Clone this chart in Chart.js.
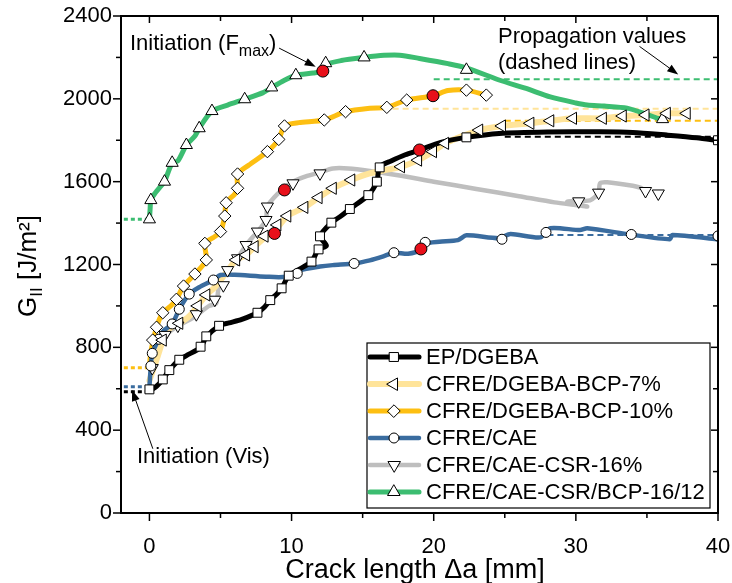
<!DOCTYPE html>
<html>
<head>
<meta charset="utf-8">
<script src="https://cdn.jsdelivr.net/npm/chart.js@4/dist/chart.umd.min.js"></script>
<style>
  html, body { margin: 0; padding: 0; background: #fff; }
  canvas { display: block; }
</style>
</head>
<body>
<canvas id="c" width="732" height="583"></canvas>
<script>
// ---- axis ticks ----
const X_TICKS = [0, 10, 20, 30, 40];
const Y_TICKS = [0, 400, 800, 1200, 1600, 2000, 2400];

// ---- series names ----
const NAMES = ['EP/DGEBA', 'CFRE/DGEBA-BCP-7%', 'CFRE/DGEBA-BCP-10%', 'CFRE/CAE', 'CFRE/CAE-CSR-16%', 'CFRE/CAE-CSR/BCP-16/12'];

// ---- EP/DGEBA ----
const EP_X = [0,0.5,0.94,1.4,2.1,2.6,3.6,4.0,4.9,5.6,6.5,7.6,8.1,8.5,9.0,9.3,9.8,10.5,11.4,11.9,12.45,12.0,12.8,13.5,14.1,15.4,16.0,16.2,17.0,18.0,19.0,20.5,22.3,24.6,28.0,31.7,34.0,36.4,38.5,40];
const EP_Y = [590,612,645,690,740,760,800,850,904,918,935,967,995,1028,1060,1085,1146,1175,1214,1273,1291,1336,1402,1435,1468,1535,1600,1672,1700,1730,1753,1790,1814,1833,1840,1841,1838,1825,1812,1798];
const EP_MX = [0,0.94,1.4,2.1,3.6,4.0,4.9,7.6,8.5,9.3,9.8,11.4,11.9,12.0,12.8,14.1,15.4,16.0,16.2,22.3,40];
const EP_MY = [597,645,690,740,803,853,904,967,1028,1085,1146,1214,1273,1336,1402,1468,1535,1600,1669,1814,1800];

// ---- CFRE/DGEBA-BCP-7% ----
const B7_X = [0,0.3,0.6,0.94,1.1,1.6,2.1,2.8,3.4,4.0,4.6,5.5,6.1,6.8,7.4,8.1,8.8,9.7,10.9,11.9,12.9,14.2,15.5,16.5,17.7,18.9,19.95,20.8,22.0,23.2,24.8,26.8,28.2,29.8,31.9,33.3,34.9,36.4,37.8];
const B7_Y = [640,700,760,835,871,900,916,950,1000,1053,1090,1170,1222,1246,1286,1330,1362,1434,1476,1523,1568,1608,1640,1655,1672,1704,1745,1785,1820,1849,1869,1882,1894,1906,1906,1917,1922,1930,1930];
const B7_MX = [0.94,2.1,3.4,4.0,6.1,6.8,7.4,8.1,9.0,9.7,10.9,11.9,12.9,14.2,17.7,18.9,19.95,20.8,23.2,24.8,26.8,28.2,29.8,31.9,33.3,34.9,36.4,37.8];
const B7_MY = [835,916,1000,1053,1222,1246,1286,1337,1391,1434,1476,1523,1568,1608,1672,1704,1745,1785,1849,1869,1882,1894,1906,1906,1917,1922,1930,1930];

// ---- CFRE/DGEBA-BCP-10% ----
const B10_X = [0,0.1,0.5,0.94,1.5,1.9,2.4,3.2,4.0,3.9,4.5,5.0,5.3,5.4,6.0,6.2,6.2,7.0,8.3,9.1,9.5,10.5,12.3,13.8,15.5,16.7,18.1,19.95,21.0,22.3,23.7];
const B10_Y = [702,779,897,967,1000,1032,1096,1154,1222,1302,1330,1359,1434,1498,1540,1568,1637,1680,1745,1804,1869,1885,1898,1938,1955,1959,1994,2015,2040,2042,2018];
const B10_MX = [0.23,0.5,0.94,1.9,2.4,3.2,4.0,3.9,5.0,5.3,5.4,6.2,6.2,8.3,9.1,9.5,12.3,13.8,16.7,18.1,22.3,23.7];
const B10_MY = [835,897,967,1032,1096,1154,1222,1302,1359,1434,1498,1568,1637,1745,1804,1869,1898,1938,1959,1994,2042,2018];

// ---- CFRE/CAE ----
const CAE_X = [0,0.1,0.2,0.65,1.0,1.6,2.1,2.8,3.5,4.5,5.0,6.0,8.2,9.6,10.6,12.0,12.9,14.4,15.5,16.4,17.2,18.2,19.1,19.4,20.4,21.7,22.3,24.6,25.4,27.5,28.2,30.3,30.8,33.8,36.6,36.8,39.9,40];
const CAE_Y = [610,710,771,839,880,913,984,1057,1090,1125,1149,1150,1141,1141,1173,1190,1197,1205,1220,1238,1257,1252,1270,1300,1310,1318,1341,1327,1347,1331,1375,1366,1375,1345,1322,1342,1322,1320];
const CAE_MX = [0.1,0.2,0.65,1.6,2.1,2.8,4.5,10.4,14.4,17.2,19.4,24.8,27.9,33.9,40];
const CAE_MY = [710,771,839,913,984,1057,1125,1157,1205,1257,1307,1322,1355,1345,1338];

// ---- CFRE/CAE-CSR-16% ----
const CSR_X = [0,0.3,0.6,1.0,1.5,2.3,3.0,3.6,4.2,4.7,4.9,5.5,6.2,6.8,7.6,8.2,8.3,9.0,10.0,11.0,12.0,12.9,14.0,15.5,17.6,20.0,23.0,26.0,28.5,30.0,30.8,29.4,31.0,31.6,31.7,32.2,34.0,34.6];
const CSR_Y = [640,700,760,840,880,915,940,970,1000,1013,1100,1173,1230,1294,1359,1415,1480,1540,1596,1625,1645,1664,1664,1652,1630,1600,1565,1530,1500,1487,1480,1505,1510,1547,1592,1597,1580,1570];
const CSR_MX = [0.2,1.1,2.0,3.3,4.6,5.2,5.5,6.2,6.8,7.6,8.2,8.3,10.1,12.0,30.2,31.6,34.9,35.8];
const CSR_MY = [700,860,905,960,1030,1100,1173,1230,1294,1359,1415,1480,1592,1640,1505,1547,1555,1543];

// ---- CFRE/CAE-CSR/BCP-16/12 ----
const HYB_X = [0,0.05,0.1,0.4,0.7,1.06,1.6,2.0,2.6,3.2,3.5,4.4,5.5,6.7,8.0,8.6,9.5,10.3,11.5,12.2,12.4,13.5,15.1,16.5,17.6,19.0,21.0,22.3,24.6,26.5,28.2,30.0,30.8,32.0,33.6,35.0,35.7,36.1];
const HYB_Y = [1418,1470,1511,1545,1570,1600,1691,1700,1777,1820,1858,1941,1970,1998,2030,2055,2090,2114,2125,2134,2165,2185,2200,2210,2211,2195,2170,2150,2091,2050,2009,1980,1970,1965,1955,1925,1907,1902];
const HYB_MX = [0,0.1,1.06,1.6,2.6,3.5,4.4,6.7,8.6,10.3,12.4,15.1,22.3,36.1];
const HYB_MY = [1418,1511,1600,1691,1777,1858,1941,1998,2055,2114,2172,2200,2140,1902];

// ---- initiation at F_max (red points) ----
const FMAX_X = [19.0, 8.8, 19.95, 19.1, 9.5, 12.2];
const FMAX_Y = [1753, 1350, 2015, 1275, 1560, 2134];

// ---- initiation from visual inspection (dotted, x from -1.8 to 0) ----
const VIS_X = [-1.8, 0];
const VIS_G = [586, null, 702, 610, null, 1418];

// ---- propagation values (dashed) ----
const PROP_START = [25, 15, 25, 28, null, 20];
const PROP_END = 40;
const PROP_G = [1817, 1952, 1894, 1342, null, 2095];

const COLORS = ['#000000', '#FFE49A', '#FDBF12', '#3A6C9F', '#BEBEBE', '#3CBD71'];
const WIDTHS = [5, 6, 5, 4.5, 4.5, 5];
const STYLES = [
  { pointStyle: 'rect', radius: 6.3, rotation: 0 },
  { pointStyle: 'triangle', radius: 7, rotation: 270 },
  { pointStyle: 'rectRot', radius: 6.2, rotation: 0 },
  { pointStyle: 'circle', radius: 5, rotation: 0 },
  { pointStyle: 'triangle', radius: 7, rotation: 180 },
  { pointStyle: 'triangle', radius: 7, rotation: 0 }
];

const CURVES = [[EP_X, EP_Y], [B7_X, B7_Y], [B10_X, B10_Y], [CAE_X, CAE_Y], [CSR_X, CSR_Y], [HYB_X, HYB_Y]];
const MARKS = [[EP_MX, EP_MY], [B7_MX, B7_MY], [B10_MX, B10_MY], [CAE_MX, CAE_MY], [CSR_MX, CSR_MY], [HYB_MX, HYB_MY]];

const pts = (xs, ys) => xs.map((x, i) => ({ x, y: ys[i] }));
const FONT = 'Liberation Sans, Arial, Helvetica, sans-serif';
Chart.defaults.font.family = FONT;
Chart.defaults.color = '#000';

// datasets: first in list is drawn on top
const datasets = [];
datasets.push({
  data: pts(FMAX_X, FMAX_Y), showLine: false, pointStyle: 'circle', pointRadius: 6,
  pointBackgroundColor: '#E8101A', pointBorderColor: '#000', pointBorderWidth: 1
});
for (let i = 0; i < 6; i++) {
  datasets.push({
    data: pts(MARKS[i][0], MARKS[i][1]), showLine: false,
    pointStyle: STYLES[i].pointStyle, pointRadius: STYLES[i].radius, pointRotation: STYLES[i].rotation,
    pointBackgroundColor: '#fff', pointBorderColor: '#000', pointBorderWidth: 1
  });
}
// line order top -> bottom
const LINE_ORDER = [5, 0, 3, 2, 1, 4];
for (const i of LINE_ORDER) {
  datasets.push({
    data: pts(CURVES[i][0], CURVES[i][1]), borderColor: COLORS[i], borderWidth: WIDTHS[i],
    pointRadius: 0, tension: 0.25, fill: false, borderCapStyle: 'round', borderJoinStyle: 'round'
  });
}
for (let i = 0; i < 6; i++) {
  if (PROP_G[i] !== null) {
    datasets.push({
      data: [{ x: PROP_START[i], y: PROP_G[i] }, { x: PROP_END, y: PROP_G[i] }],
      borderColor: COLORS[i], borderWidth: 2, borderDash: [6, 4], pointRadius: 0, tension: 0
    });
  }
  if (VIS_G[i] !== null) {
    datasets.push({
      data: VIS_X.map(x => ({ x, y: VIS_G[i] })),
      borderColor: COLORS[i], borderWidth: 3, borderDash: [4, 3], pointRadius: 0, tension: 0
    });
  }
}

function line(ctx, x1, y1, x2, y2) {
  ctx.beginPath(); ctx.moveTo(x1, y1); ctx.lineTo(x2, y2); ctx.stroke();
}
function arrow(ctx, x1, y1, x2, y2) {
  ctx.lineWidth = 1; ctx.strokeStyle = '#000'; ctx.fillStyle = '#000';
  const a = Math.atan2(y2 - y1, x2 - x1);
  const L = 11, W = 4;
  const bx = x2 - Math.cos(a) * L, by = y2 - Math.sin(a) * L;
  line(ctx, x1, y1, bx, by);
  ctx.beginPath();
  ctx.moveTo(x2, y2);
  ctx.lineTo(bx - Math.sin(a) * W, by + Math.cos(a) * W);
  ctx.lineTo(bx + Math.sin(a) * W, by - Math.cos(a) * W);
  ctx.closePath(); ctx.fill();
}
// text with sub-parts: [{t, size, dy}]
function rich(ctx, parts, x, y, align) {
  let total = 0;
  for (const p of parts) { ctx.font = p.size + 'px ' + FONT; total += ctx.measureText(p.t).width; }
  let cx = align === 'center' ? x - total / 2 : x;
  ctx.textAlign = 'left'; ctx.textBaseline = 'alphabetic';
  for (const p of parts) {
    ctx.font = p.size + 'px ' + FONT;
    ctx.fillText(p.t, cx, y + (p.dy || 0));
    cx += ctx.measureText(p.t).width;
  }
}

const decor = {
  id: 'decor',
  afterDatasetsDraw(chart) {
    const { ctx, chartArea: { left, right, top, bottom }, scales: { x, y } } = chart;
    ctx.save();
    ctx.strokeStyle = '#000';
    ctx.lineWidth = 1.5;
    for (let v = 0; v <= 40; v += 5) {
      const px = x.getPixelForValue(v), major = v % 10 === 0;
      line(ctx, px, bottom, px, bottom + (major ? 8 : 5));
      line(ctx, px, top, px, top + (major ? 7 : 5));
    }
    for (let v = 0; v <= 2400; v += 200) {
      const py = y.getPixelForValue(v), major = v % 400 === 0;
      line(ctx, left - (major ? 8 : 5), py, left, py);
      line(ctx, right - (major ? 7 : 5), py, right, py);
    }
    ctx.lineWidth = 2;
    ctx.strokeRect(left, top, right - left, bottom - top);

    // legend box
    const lx = 367, ly = 343, lw = 343, lh = 165, rowH = 27;
    ctx.fillStyle = '#fff';
    ctx.fillRect(lx, ly, lw, lh);
    ctx.lineWidth = 1.2; ctx.strokeStyle = '#000';
    ctx.strokeRect(lx, ly, lw, lh);
    for (let i = 0; i < 6; i++) {
      const cy = ly + 14 + i * rowH;
      ctx.strokeStyle = COLORS[i]; ctx.lineWidth = WIDTHS[i]; ctx.lineCap = 'round';
      line(ctx, lx + 3, cy, lx + 52, cy);
      ctx.fillStyle = '#fff'; ctx.strokeStyle = '#000'; ctx.lineWidth = 1;
      Chart.helpers.drawPoint(ctx, { pointStyle: STYLES[i].pointStyle, radius: STYLES[i].radius, rotation: STYLES[i].rotation, borderWidth: 1 }, lx + 27, cy);
      ctx.fillStyle = '#000';
      ctx.font = '22px ' + FONT; ctx.textAlign = 'left'; ctx.textBaseline = 'middle';
      ctx.fillText(NAMES[i], lx + 59, cy + 1);
    }

    // annotations
    ctx.fillStyle = '#000';
    rich(ctx, [{ t: 'Initiation (F', size: 22 }, { t: 'max', size: 16, dy: 6 }, { t: ')', size: 22 }], 130, 50, 'left');
    arrow(ctx, x.getPixelForValue(9.15), y.getPixelForValue(2244), x.getPixelForValue(11.7), y.getPixelForValue(2155));
    ctx.fillStyle = '#000';
    rich(ctx, [{ t: 'Propagation values', size: 22 }], 498, 43, 'left');
    rich(ctx, [{ t: '(dashed lines)', size: 22 }], 498, 69, 'left');
    arrow(ctx, x.getPixelForValue(34.5), y.getPixelForValue(2252), x.getPixelForValue(37.2), y.getPixelForValue(2118));
    ctx.fillStyle = '#000';
    rich(ctx, [{ t: 'Initiation (Vis)', size: 22 }], 137, 463, 'left');
    arrow(ctx, x.getPixelForValue(0.23), y.getPixelForValue(312), x.getPixelForValue(-1.22), y.getPixelForValue(594));

    // axis titles
    ctx.fillStyle = '#000';
    rich(ctx, [{ t: 'Crack length \u0394a [mm]', size: 27 }], 415, 578, 'center');
    ctx.save();
    ctx.translate(36, 266);
    ctx.rotate(-Math.PI / 2);
    rich(ctx, [{ t: 'G', size: 26 }, { t: 'II', size: 17, dy: 6 }, { t: ' [J/m\u00B2]', size: 26 }], 0, 0, 'center');
    ctx.restore();
    ctx.restore();
  }
};

new Chart(document.getElementById('c'), {
  type: 'line',
  data: { datasets },
  options: {
    responsive: false,
    animation: false,
    events: [],
    layout: { padding: { left: 0, top: 16, right: 14, bottom: 0 } },
    plugins: { legend: { display: false }, tooltip: { enabled: false } },
    scales: {
      x: {
        type: 'linear', min: -2, max: 40,
        afterBuildTicks: s => { s.ticks = X_TICKS.map(v => ({ value: v })); },
        afterFit: s => { s.height = 70; s.paddingLeft = 0; s.paddingRight = 0; },
        grid: { display: false, drawTicks: false },
        border: { display: false },
        ticks: { padding: 21, font: { size: 22 }, maxRotation: 0, autoSkip: false, color: '#000', callback: v => String(v) }
      },
      y: {
        type: 'linear', min: 0, max: 2400,
        afterBuildTicks: s => { s.ticks = Y_TICKS.map(v => ({ value: v })); },
        afterFit: s => { s.width = 121; s.paddingTop = 0; s.paddingBottom = 0; },
        grid: { display: false, drawTicks: false },
        border: { display: false },
        ticks: { padding: 9, font: { size: 22 }, autoSkip: false, color: '#000', callback: v => String(v) }
      }
    }
  },
  plugins: [decor]
});
</script>
</body>
</html>
